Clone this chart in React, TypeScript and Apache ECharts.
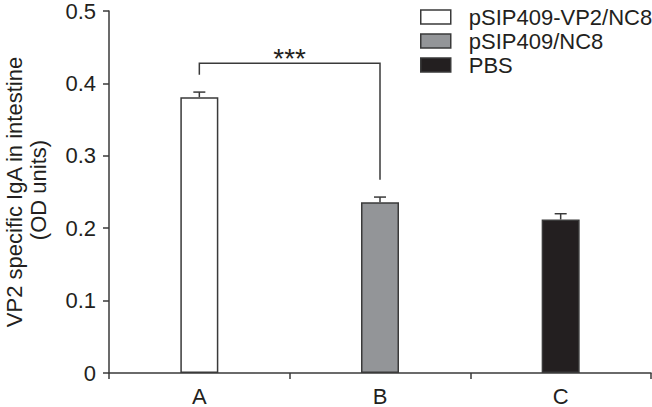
import React, { useEffect, useRef } from "react";
import * as echarts from "echarts";

const categories = ["A", "B", "C"];
const seriesNames = ["pSIP409-VP2/NC8", "pSIP409/NC8", "PBS"];
const means = [0.381, 0.236, 0.212];
const errors = [0.007, 0.007, 0.008];
const barColors = ["#ffffff", "#939598", "#231f20"];
const yTicks = { min: 0, max: 0.5, interval: 0.1 };
// significance bracket between group A and group B
const bracketGroups = [0, 1];
const bracketTop = 0.428;
const bracketLegEnds = [0.412, 0.267];
const bracketLabel = "***";
const yTitleLines = ["VP2 specific IgA in intestine", "(OD units)"];

const INK = "#3a3a3a";
const TEXT = "#231f20";
const FONT = "'Liberation Sans', Arial, Helvetica, sans-serif";

export default function App() {
  const ref = useRef<HTMLDivElement>(null);
  useEffect(() => {
    document.body.style.margin = "0";
    const chart = echarts.init(ref.current!, null, { renderer: "svg" });

    const barSeries = seriesNames.map((name, i) => ({
      name,
      type: "bar",
      barWidth: 38,
      barGap: "-100%",
      data: categories.map((_, j) => (j === i ? means[i] : "-")),
      itemStyle: { color: barColors[i], borderColor: INK, borderWidth: 1.5 },
      z: 2,
    }));

    const errorSeries = {
      type: "custom",
      z: 3,
      silent: true,
      data: categories.map((_, j) => [j, means[j], means[j] + errors[j]]),
      renderItem: (params: any, api: any) => {
        const x = api.value(0);
        const p0 = api.coord([x, api.value(1)]);
        const p1 = api.coord([x, api.value(2)]);
        const cap = 6;
        const style = { stroke: INK, lineWidth: 1.5 };
        return {
          type: "group",
          children: [
            { type: "line", shape: { x1: p0[0], y1: p0[1], x2: p1[0], y2: p1[1] }, style },
            { type: "line", shape: { x1: p1[0] - cap, y1: p1[1], x2: p1[0] + cap, y2: p1[1] }, style },
          ],
        };
      },
    };

    const bracketSeries = {
      type: "custom",
      z: 3,
      silent: true,
      data: [[bracketGroups[0], bracketGroups[1], bracketTop, bracketLegEnds[0], bracketLegEnds[1]]],
      renderItem: (params: any, api: any) => {
        const a = api.coord([api.value(0), api.value(2)]);
        const b = api.coord([api.value(1), api.value(2)]);
        const la = api.coord([api.value(0), api.value(3)]);
        const lb = api.coord([api.value(1), api.value(4)]);
        const style = { stroke: INK, lineWidth: 1.5, fill: "none" };
        return {
          type: "group",
          children: [
            {
              type: "polyline",
              shape: { points: [[la[0], la[1]], [a[0], a[1]], [b[0], b[1]], [lb[0], lb[1]]] },
              style,
            },
            {
              type: "text",
              x: (a[0] + b[0]) / 2,
              y: a[1] - 4.5,
              style: {
                text: bracketLabel,
                fill: TEXT,
                font: `28px ${FONT}`,
                align: "center",
                verticalAlign: "middle",
              },
            },
          ],
        };
      },
    };

    chart.setOption({
      animation: false,
      backgroundColor: "#ffffff",
      grid: { left: 109, right: 1, top: 8, bottom: 32, containLabel: false },
      legend: {
        orient: "vertical",
        left: 420,
        top: 6,
        padding: 0,
        icon: "rect",
        itemWidth: 30,
        itemHeight: 14,
        itemGap: 2,
        data: seriesNames,
        selectedMode: false,
        itemStyle: { borderColor: INK, borderWidth: 1.5 },
        textStyle: { fontSize: 22, color: TEXT, fontFamily: FONT, padding: [0, 0, 0, 13] },
      },
      xAxis: {
        type: "category",
        data: categories,
        boundaryGap: true,
        axisLine: { lineStyle: { color: INK, width: 1.5 } },
        axisTick: { show: true, inside: false, length: 6, lineStyle: { color: INK, width: 1.5 } },
        axisLabel: { fontSize: 22, color: TEXT, fontFamily: FONT, margin: 12 },
      },
      yAxis: {
        type: "value",
        min: yTicks.min,
        max: yTicks.max,
        interval: yTicks.interval,
        splitLine: { show: false },
        axisLine: { show: true, lineStyle: { color: INK, width: 1.5 } },
        axisTick: { show: true, inside: false, length: 6, lineStyle: { color: INK, width: 1.5 } },
        axisLabel: { fontSize: 22, color: TEXT, fontFamily: FONT, margin: 13 },
      },
      graphic: [
        {
          type: "text",
          x: 14,
          y: 192,
          rotation: Math.PI / 2,
          style: {
            text: yTitleLines[0],
            font: `22px ${FONT}`,
            fill: TEXT,
            align: "center",
            verticalAlign: "middle",
          },
        },
        {
          type: "text",
          x: 38,
          y: 190,
          rotation: Math.PI / 2,
          style: {
            text: yTitleLines[1],
            font: `22px ${FONT}`,
            fill: TEXT,
            align: "center",
            verticalAlign: "middle",
          },
        },
      ],
      series: [...barSeries, errorSeries, bracketSeries],
    });
    return () => chart.dispose();
  }, []);
  return <div ref={ref} style={{ width: 652, height: 407 }} />;
}
